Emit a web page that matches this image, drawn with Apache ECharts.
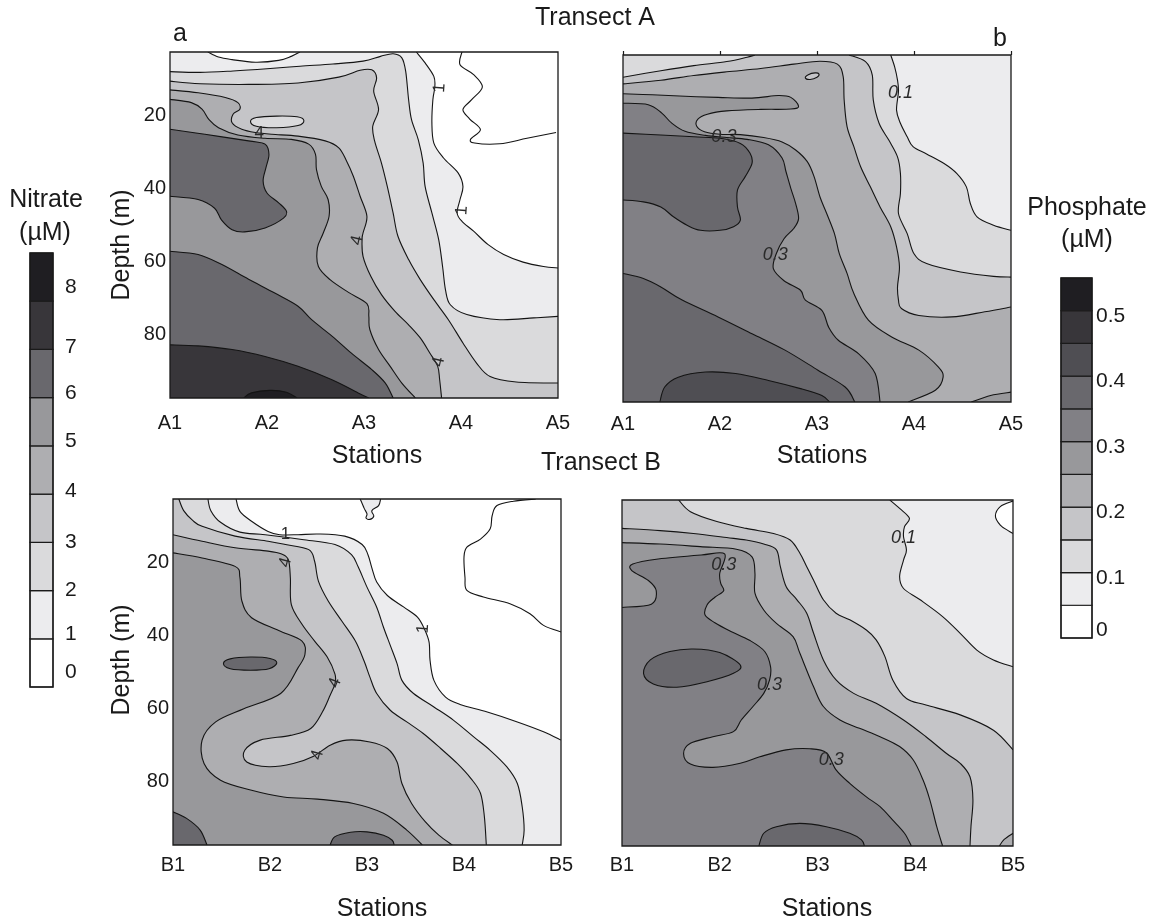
<!DOCTYPE html>
<html>
<head>
<meta charset="utf-8">
<title>Nitrate and phosphate sections, transects A and B</title>
<script src="https://cdn.jsdelivr.net/npm/echarts@6/dist/echarts.min.js"></script>
<style>
html,body{margin:0;padding:0;background:#fff;}
#J_Main{width:1156px;height:924px;}
</style>
</head>
<body>
<div id="J_Main"></div>
<script>
// axes and legend values
var stationsA=['A1','A2','A3','A4','A5'];
var stationsB=['B1','B2','B3','B4','B5'];
var depthTicks=[20,40,60,80];
var nitrateTicks=['0','1','2','3','4','5','6','7','8'];
var nitrateBounds=[0,1,2,3,4,5,6,7,8,9];
var phosphateTicks=['0','0.1','0.2','0.3','0.4','0.5'];
var phosphateBounds=[0,0.05,0.1,0.15,0.2,0.25,0.3,0.35,0.4,0.45,0.5,0.55];

// contour lines, [station, depth m]
// a: nitrate, transect A
var aN1=[[3.54,2.5],[3.63,5.5],[3.72,9.2],[3.73,12.1],[3.71,15.6],[3.70,22],[3.72,27.5],[3.82,31.6],[3.97,35.7],[4.02,39.4],[3.99,43],[3.96,46.7],[4.01,49],[4.13,51.7],[4.28,55.4],[4.44,58.1],[4.64,60.2],[4.85,61.4],[5,61.8]];
var aN1top=[[1.39,2.5],[1.5,3.9],[1.64,4.6],[1.88,5.3],[2.12,4.8],[2.25,3.7],[2.34,2.5]];
var aNwave=[[4.01,2.5],[3.99,6],[4.13,8.7],[4.22,12.1],[4.11,15.6],[4.02,18.3],[4.09,20.9],[4.2,23.8],[4.1,26.4],[4.14,27.5],[4.4,27.7],[4.68,26.2],[4.98,24.6]];
var aN2=[[1,7.9],[1.31,8.1],[1.65,7.7],[2,7.1],[2.34,6.4],[2.68,5.8],[2.99,5.0],[3.17,3.7],[3.3,3.0],[3.39,4.1],[3.43,7.8],[3.46,15.6],[3.49,21.1],[3.56,26.6],[3.61,33],[3.63,39.4],[3.70,46.7],[3.77,54],[3.81,61.4],[3.84,67.8],[3.89,71.9],[4.06,74.6],[4.4,76],[4.75,75.5],[5,75.1]];
var aN3=[[1,10.5],[1.31,11.2],[1.81,11.4],[2.32,11.0],[2.74,9.4],[2.96,7.5],[3.08,7.4],[3.13,9.6],[3.10,13.3],[3.15,18.3],[3.09,22.9],[3.11,27],[3.18,33],[3.24,39.4],[3.30,46.7],[3.35,53.1],[3.46,59.5],[3.58,65],[3.72,70.5],[3.87,76],[4.02,82.4],[4.16,87.9],[4.30,91.6],[4.57,93.1],[5,93.4]];
var aN3hole=[[1.83,21.6],[1.89,20.5],[2.1,20.1],[2.31,20.3],[2.38,21.3],[2.32,22.7],[2.1,23.3],[1.89,22.9]];
var aN4=[[1,12.9],[1.29,13.7],[1.57,15],[1.70,16.4],[1.72,18.2],[1.65,19.6],[1.64,21.9],[1.74,23.7],[1.88,24.6],[2.05,25.1],[2.32,25.6],[2.6,26.9],[2.74,28.8],[2.82,32.4],[2.89,36.6],[2.96,42.1],[3.03,47.6],[2.99,52.2],[2.98,54],[2.99,58.6],[3.07,64.1],[3.18,69.1],[3.32,73.7],[3.46,77.4],[3.58,81],[3.68,85.2],[3.76,88.8],[3.78,92.5],[3.80,97.5]];
var aN5=[[1,15.5],[1.22,16.4],[1.33,18.2],[1.40,21],[1.50,23.3],[1.70,25.3],[1.98,26.2],[2.25,26.5],[2.43,27.8],[2.50,30.6],[2.51,34.8],[2.56,39.4],[2.63,43],[2.64,47.6],[2.58,52.2],[2.52,56.3],[2.53,61.4],[2.65,65],[2.84,68.5],[3.03,71.6],[3.05,75.1],[3.06,78.7],[3.15,84.2],[3.27,88.8],[3.39,93.4],[3.53,97.5]];
var aN6lobe=[[1,23.7],[1.36,25.1],[1.81,26.9],[1.98,27.8],[2.02,30.6],[1.99,34.2],[1.96,37.9],[2.0,41.2],[2.12,43.9],[2.2,46.2],[2.17,48.1],[1.98,50.8],[1.77,51.9],[1.64,51.3],[1.53,48.6],[1.46,45.4],[1.29,43],[1,42.1]];
var aN6=[[1,57.2],[1.29,58.1],[1.53,60.8],[1.81,64.9],[2.08,68.7],[2.32,72.3],[2.46,76],[2.67,80.5],[2.87,85.2],[3.08,89.7],[3.22,93.4],[3.30,97.5]];
var aN7=[[1,82.9],[1.29,83.2],[1.64,84.2],[1.98,86.1],[2.32,88.8],[2.67,92.5],[2.94,96.1],[3.05,97.5]];
var aN8=[[1.76,97.5],[1.84,96.1],[2.03,95.4],[2.2,95.9],[2.31,97.5]];
var aLabels=[[3.78,12.4,'1'],[4.01,46,'1'],[1.92,24.7,'4'],[2.93,54.2,'4'],[3.77,87.6,'4']];

// b: phosphate, transect A
var bP10=[[3.76,2.5],[3.80,5.7],[3.83,9.4],[3.84,12.5],[3.82,17.6],[3.86,21.2],[3.93,24.9],[3.99,27.6],[4.13,29.6],[4.31,32.2],[4.44,34.9],[4.54,38.6],[4.58,43.1],[4.65,46.8],[4.82,49.1],[5,50.5]];
var bP15a=[[1,8.6],[1.39,6.8],[1.73,5.4],[2.07,4.3],[2.28,3.1],[2.36,2.5]];
var bP15b=[[3.33,2.5],[3.50,4.3],[3.57,8],[3.58,14.8],[3.64,21.2],[3.74,25.8],[3.83,30.4],[3.86,34.9],[3.86,40.4],[3.84,45.9],[3.93,51.4],[4.0,56.9],[4.13,59.6],[4.48,61.9],[4.82,63.1],[5,63.3]];
var bP20=[[1,10.4],[1.39,9.4],[1.73,8.1],[2.07,7.1],[2.42,6.2],[2.76,5],[3.03,4.2],[3.21,5],[3.27,8.4],[3.28,14.8],[3.31,22.1],[3.38,27.6],[3.45,33.1],[3.55,38.6],[3.65,44.1],[3.76,49.5],[3.82,55],[3.85,60.5],[3.83,66],[3.84,69.6],[3.87,71.9],[4.05,73.8],[4.39,74.2],[4.73,72.8],[5,71.5]];
var bP20hole=[[2.88,8.8],[2.91,7.9],[2.98,7.4],[3.02,7.7],[3.0,8.6],[2.93,9.2]];
var bP25=[[1,13.1],[1.30,13.4],[1.64,13.8],[1.98,14.1],[2.33,14.3],[2.60,13.6],[2.73,14.1],[2.81,16.5],[2.73,17.3],[2.42,17.4],[2.07,17.8],[1.87,18.7],[1.77,20.1],[1.76,22],[1.84,23.5],[2.0,24.2],[2.21,24.3],[2.45,25.1],[2.64,26.3],[2.78,28.5],[2.90,31.7],[2.97,35.8],[3.03,41.3],[3.10,45.9],[3.18,51.4],[3.23,56.9],[3.31,62.3],[3.38,67.8],[3.53,75.1],[3.77,79.7],[4.05,83.3],[4.25,87.9],[4.30,90.7],[4.22,94.3],[3.94,97.5]];
var bP25corner=[[4.59,97.5],[4.79,95.7],[5,94.8]];
var bP30=[[1,15.7],[1.26,16.1],[1.40,18.4],[1.50,21.1],[1.64,23.4],[1.85,24.5],[2.07,25.1],[2.28,25.6],[2.5,27.1],[2.64,30.7],[2.68,34.4],[2.73,39],[2.78,43.2],[2.81,47.3],[2.76,50],[2.66,52.8],[2.58,56.9],[2.55,61],[2.66,64.3],[2.83,66.9],[2.88,69.6],[3.05,72.4],[3.12,77],[3.22,80.6],[3.43,84.3],[3.60,89.7],[3.65,97.5]];
var bP35lobe=[[1,23.9],[1.39,24.4],[1.73,24.9],[2.0,25.3],[2.21,26.7],[2.31,29.4],[2.33,32.2],[2.26,35.8],[2.18,39.5],[2.18,44.1],[2.21,47.7],[2.14,49.5],[2.0,50.5],[1.80,50.5],[1.66,49.1],[1.52,46.8],[1.39,44.1],[1.21,42.7],[1,42.2]];
var bP35=[[1,62.3],[1.21,63.7],[1.39,66],[1.61,69.6],[1.98,74.2],[2.33,78.8],[2.67,83.3],[3.01,88.8],[3.29,93.4],[3.39,97.5]];
var bP40=[[1.38,97.5],[1.43,93.4],[1.57,90.7],[1.85,89.3],[2.16,89.7],[2.5,91.6],[2.84,93.9],[3.05,95.7],[3.13,97.5]];
var bLabels=[[3.86,13.0,'0.1'],[2.04,24.9,'0.3'],[2.57,57.3,'0.3']];

// c: nitrate, transect B
var cN1=[[1.65,2.5],[1.69,5.9],[1.81,8.6],[1.98,11.4],[2.10,12.3],[2.29,12.3],[2.50,12.1],[2.77,12.7],[2.95,15],[3.01,17.8],[3.05,21.4],[3.10,25.3],[3.21,29],[3.38,32.2],[3.52,34.9],[3.59,38.1],[3.64,41.8],[3.65,46.8],[3.69,52.3],[3.81,56.9],[3.96,58.9],[4.24,61],[4.55,63.7],[4.82,66.4],[5,68.7]];
var cN1cap=[[2.93,2.5],[2.97,5],[3.0,6.6],[2.99,7.7],[3.03,8.1],[3.07,7.2],[3.05,5.7],[3.12,4.3],[3.14,2.5]];
var cNwave=[[4.74,2.5],[4.51,3.1],[4.34,4.3],[4.29,7.1],[4.27,10.7],[4.17,13.5],[4.03,15.7],[4.0,18.5],[4.01,24],[4.03,27.6],[4.2,29.4],[4.48,31.3],[4.68,34],[4.82,37.2],[5,39]];
var cN2=[[1.36,2.5],[1.39,5.7],[1.49,8.9],[1.69,11.6],[1.95,12.3],[2.33,13.6],[2.67,15],[2.84,17.8],[2.91,21.2],[3.0,26.7],[3.10,32.2],[3.17,37.7],[3.24,42.7],[3.31,47.7],[3.36,52.3],[3.48,55.9],[3.69,59.6],[3.89,63.2],[4.1,67.8],[4.27,71.5],[4.44,76],[4.55,80.6],[4.6,87],[4.62,93.4],[4.6,97.5]];
var cN3=[[1.06,2.5],[1.11,5.7],[1.2,8.3],[1.3,10],[1.64,12.7],[1.98,14.1],[2.16,15],[2.40,16.4],[2.46,19.6],[2.5,25.1],[2.6,30.5],[2.74,36],[2.88,41.5],[2.97,47],[3.03,51.4],[3.10,55.9],[3.24,60.5],[3.41,63.7],[3.58,66.9],[3.76,71],[3.93,75.1],[4.07,79.2],[4.17,83.3],[4.21,89.7],[4.23,97.5]];
var cN4=[[1,12.3],[1.3,14.1],[1.64,15.9],[1.98,16.8],[2.12,17.6],[2.19,19.2],[2.21,24.2],[2.22,31.5],[2.33,36.9],[2.46,41.5],[2.59,45.9],[2.67,50.6],[2.67,53.2],[2.62,56.4],[2.54,61],[2.42,65.5],[2.21,67.4],[1.90,68.7],[1.74,71.5],[1.76,74.7],[1.99,76],[2.24,75.1],[2.45,73.1],[2.62,70.1],[2.79,68.7],[3.03,69.2],[3.21,71],[3.31,74.7],[3.36,80.6],[3.46,86.1],[3.6,91.1],[3.74,94.8],[3.88,97.5]];
var cN5=[[1,17.3],[1.30,18.7],[1.64,21],[1.69,24.1],[1.71,30.5],[1.81,35.1],[2.09,38.6],[2.33,41.5],[2.36,45.2],[2.29,48.8],[2.11,55.9],[1.73,60.1],[1.44,63.7],[1.30,68.7],[1.32,75.1],[1.49,79.7],[1.80,82.4],[2.14,84.3],[2.49,84.9],[2.86,86.1],[3.17,88.8],[3.41,93.4],[3.57,97.5]];
var cN6oval=[[1.52,47.7],[1.59,46.4],[1.8,45.9],[2.0,46.3],[2.07,47.5],[1.99,49.1],[1.8,49.5],[1.59,49.1]];
var cN6corner=[[1,88.4],[1.14,90.2],[1.28,93.4],[1.35,97.5]];
var cN6bed=[[2.62,97.5],[2.67,95.2],[2.83,94],[3.0,93.9],[3.17,94.8],[3.26,96.2],[3.28,97.5]];
var cLabels=[[2.16,12.1,'1'],[3.58,38.1,'1'],[2.16,19.9,'4'],[2.67,53.0,'4'],[2.49,72.8,'4']];

// d: phosphate, transect B
var dP05hole=[[5,2.8],[4.87,4.3],[4.82,6.9],[4.87,9.4],[4.95,10.9],[5,11.7]];
var dP10=[[3.74,2.5],[3.84,4.8],[3.94,7.5],[3.89,9.8],[3.88,12.6],[3.91,16.2],[3.88,19],[3.84,23.5],[3.88,26.8],[4.05,29.9],[4.28,34.5],[4.46,39.1],[4.63,43.7],[4.8,46.4],[5,48.3]];
var dP15=[[1.58,2.5],[1.7,5.7],[1.97,8.4],[2.27,10.3],[2.55,11.7],[2.72,13.5],[2.82,17.1],[2.89,20.8],[2.96,24.5],[3.06,29.9],[3.19,33.6],[3.33,35.4],[3.5,38.2],[3.6,40.9],[3.69,45.5],[3.77,51.9],[3.91,57],[4.11,58.8],[4.46,61.5],[4.8,65.7],[5,71.1]];
var dP20=[[1,10.3],[1.39,10.9],[1.73,11.7],[2.07,12.8],[2.27,13.5],[2.45,14.6],[2.58,16.2],[2.62,20.8],[2.68,26.3],[2.79,29.9],[2.89,33.6],[2.96,39.1],[3.06,46.4],[3.19,51.9],[3.37,55.6],[3.6,58.3],[3.88,62.9],[4.11,67.5],[4.32,72.1],[4.46,74.8],[4.56,78.5],[4.59,84.9],[4.57,92.2],[4.56,97.5]];
var dP20corner=[[4.86,97.5],[4.91,95.7],[5,94]];
var dP25=[[1,14.2],[1.39,14.6],[1.8,15.3],[2.17,16],[2.33,18.1],[2.36,22.6],[2.36,28.1],[2.45,32.7],[2.58,36.4],[2.75,40],[2.82,44.6],[2.96,53.8],[3.06,59.2],[3.23,62.9],[3.43,65.2],[3.64,67.5],[3.84,70.2],[3.98,73.9],[4.08,79.4],[4.15,84.9],[4.22,92.2],[4.28,97.5]];
var dP30=[[1,32],[1.3,31.1],[1.35,27.4],[1.27,24.6],[1.10,21.9],[1.11,20.1],[1.37,18.7],[1.81,17.6],[2.05,17.3],[2.0,22.6],[2.01,25.4],[2.04,27.4],[1.95,29.2],[1.87,31.3],[1.85,34.1],[1.95,36.2],[2.10,38.4],[2.31,41.1],[2.46,44.1],[2.52,48.3],[2.51,51.9],[2.45,55.6],[2.34,59.2],[2.22,62.9],[2.14,66.1],[1.93,67.5],[1.70,69.3],[1.63,72.1],[1.70,75],[1.93,75.9],[2.21,74.8],[2.41,73],[2.68,71.1],[2.92,70.8],[3.09,71.9],[3.19,76.6],[3.33,80.3],[3.5,84],[3.64,86.7],[3.77,90.4],[3.89,94],[3.96,97.5]];
var dP35oval=[[1.22,50.1],[1.29,46.4],[1.49,44.1],[1.73,43.4],[2.0,44.4],[2.21,47.8],[2.14,50.1],[1.87,52.4],[1.56,53.9],[1.32,53]];
var dP35bed=[[2.40,97.5],[2.45,94],[2.58,92.2],[2.82,91.3],[3.09,92.2],[3.33,94],[3.45,95.8],[3.48,97.5]];
var dLabels=[[3.88,13.0,'0.1'],[2.04,20.3,'0.3'],[2.51,53.3,'0.3'],[3.14,73.9,'0.3']];

// ---- styling / layout ----
var FONT='Liberation Sans, Arial, Helvetica, sans-serif';
var INK='#1a1a1a';
var nitrateShades=['#ffffff','#ececee','#dadadc','#c5c5c8','#aeaeb1','#98989b','#69686d','#38363a','#1f1e22'];
var phosphateShades=['#ffffff','#ececee','#dadadc','#c5c5c8','#aeaeb1','#98989b','#818085','#69686d','#4f4e53','#38363a','#1f1e22'];
var DEPTH_MIN=2.5,DEPTH_MAX=97.5;
var CORNER={TL:[1,DEPTH_MIN],TR:[5,DEPTH_MIN],BR:[5,DEPTH_MAX],BL:[1,DEPTH_MAX]};
// where the colour-bar labels sit, in bar units
var nitrateLabelAt=[0.3,1.1,2.0,3.0,4.05,5.1,6.1,7.05,8.3];
var phosphateLabelAt=[0.012,0.092,0.192,0.292,0.392,0.492];

// filled regions: lv = lower bound of the band painted on the high side of the line
var regionsA=[
    {lv:0,segs:[],close:['TL','TR','BR','BL']},
    {lv:1,segs:[aN1],close:['BR','BL','TL']},
    {lv:0,segs:[aN1top]},
    {lv:2,segs:[aN2],close:['BR','BL']},
    {lv:3,segs:[aN3],close:['BR','BL']},
    {lv:2,segs:[aN3hole],ring:true},
    {lv:4,segs:[aN4],close:['BL']},
    {lv:5,segs:[aN5],close:['BL']},
    {lv:6,segs:[aN6lobe]},
    {lv:6,segs:[aN6],close:['BL']},
    {lv:7,segs:[aN7],close:['BL']},
    {lv:8,segs:[aN8]},
    {lv:null,segs:[aNwave]}
];
var regionsB=[
    {lv:0.05,segs:[],close:['TL','TR','BR','BL']},
    {lv:0.1,segs:[bP10],close:['BR','BL','TL']},
    {lv:0.15,segs:[bP15a,bP15b],close:['BR','BL']},
    {lv:0.2,segs:[bP20],close:['BR','BL']},
    {lv:0.15,segs:[bP20hole],ring:true},
    {lv:0.25,segs:[bP25],close:['BL']},
    {lv:0.25,segs:[bP25corner],close:['BR']},
    {lv:0.3,segs:[bP30],close:['BL']},
    {lv:0.35,segs:[bP35lobe]},
    {lv:0.35,segs:[bP35],close:['BL']},
    {lv:0.4,segs:[bP40]}
];
var regionsC=[
    {lv:0,segs:[],close:['TL','TR','BR','BL']},
    {lv:1,segs:[cN1],close:['BR','BL','TL']},
    {lv:1,segs:[cN1cap]},
    {lv:2,segs:[cN2],close:['BL','TL']},
    {lv:3,segs:[cN3],close:['BL','TL']},
    {lv:4,segs:[cN4],close:['BL']},
    {lv:5,segs:[cN5],close:['BL']},
    {lv:6,segs:[cN6oval],ring:true},
    {lv:6,segs:[cN6corner],close:['BL']},
    {lv:6,segs:[cN6bed]},
    {lv:null,segs:[cNwave]}
];
var regionsD=[
    {lv:0.05,segs:[],close:['TL','TR','BR','BL']},
    {lv:0,segs:[dP05hole]},
    {lv:0.1,segs:[dP10],close:['BR','BL','TL']},
    {lv:0.15,segs:[dP15],close:['BR','BL','TL']},
    {lv:0.2,segs:[dP20],close:['BL']},
    {lv:0.2,segs:[dP20corner],close:['BR']},
    {lv:0.25,segs:[dP25],close:['BL']},
    {lv:0.3,segs:[dP30],close:['BL']},
    {lv:0.35,segs:[dP35oval],ring:true},
    {lv:0.35,segs:[dP35bed]}
];

// catmull-rom through pixel points, returned as bezier commands after the first point
function splineTail(pts,ring){
    var n=pts.length,out='',m=ring?n:n-1;
    for(var i=0;i<m;i++){
        var p0=pts[ring?(i-1+n)%n:Math.max(i-1,0)],p1=pts[i],p2=pts[(i+1)%n],p3=pts[ring?(i+2)%n:Math.min(i+2,n-1)];
        out+=' C'+(p1[0]+(p2[0]-p0[0])/6)+' '+(p1[1]+(p2[1]-p0[1])/6)+' '+(p2[0]-(p3[0]-p1[0])/6)+' '+(p2[1]-(p3[1]-p1[1])/6)+' '+p2[0]+' '+p2[1];
    }
    return out;
}

function sectionSeries(idx,regions,shades,step,labels,turns,italic){
    return [{
        type:'custom',coordinateSystem:'cartesian2d',xAxisIndex:idx,yAxisIndex:idx,
        clip:true,silent:true,animation:false,z:2,
        encode:{x:0,y:1},
        data:regions.map(function(r,i){return [1,DEPTH_MIN,i];}),
        renderItem:function(params,api){
            var r=regions[params.dataIndex],d='',strokes=[],children=[];
            r.segs.forEach(function(seg){
                var pts=seg.map(function(p){return api.coord(p);});
                var head=pts[0][0]+' '+pts[0][1],tail=splineTail(pts,r.ring);
                d+=(d?' L':'M')+head+tail;
                strokes.push('M'+head+tail+(r.ring?' Z':''));
            });
            (r.close||[]).forEach(function(c){
                var p=api.coord(CORNER[c]);
                d+=(d?' L':'M')+p[0]+' '+p[1];
            });
            if(r.lv!=null){
                children.push({type:'path',shape:{pathData:d+' Z'},style:{fill:shades[Math.round(r.lv/step)],stroke:'none'}});
            }
            strokes.forEach(function(s){
                children.push({type:'path',shape:{pathData:s},style:{fill:'none',stroke:'#141414',lineWidth:1.1}});
            });
            return {type:'group',children:children};
        }
    },{
        type:'custom',coordinateSystem:'cartesian2d',xAxisIndex:idx,yAxisIndex:idx,
        silent:true,animation:false,z:3,
        encode:{x:0,y:1},
        data:labels.map(function(l,i){return [l[0],l[1],i];}),
        renderItem:function(params,api){
            var p=api.coord([api.value(0),api.value(1)]),k=params.dataIndex;
            return {type:'text',x:p[0],y:p[1],rotation:turns[k]||0,
                style:{text:labels[k][2],fontSize:italic?18:17,fontFamily:FONT,fontStyle:italic?'italic':'normal',
                    fill:'#2a2a2a',align:'center',verticalAlign:'middle'}};
        }
    }];
}

function barSeries(idx,bounds,shades){
    return {
        type:'custom',coordinateSystem:'cartesian2d',xAxisIndex:idx,yAxisIndex:idx,
        silent:true,animation:false,encode:{x:0,y:1},
        data:bounds.slice(0,-1).map(function(lo,i){return [0,lo,bounds[i+1],i];}),
        renderItem:function(params,api){
            var a=api.coord([0,api.value(1)]),b=api.coord([1,api.value(2)]);
            return {type:'rect',shape:{x:a[0],y:b[1],width:b[0]-a[0],height:a[1]-b[1]},
                style:{fill:shades[api.value(3)],stroke:'#1a1a1a',lineWidth:1.2}};
        }
    };
}

function stationAxis(idx,names,margin){
    return {type:'value',gridIndex:idx,min:1,max:5,interval:1,
        axisLine:{show:false},axisTick:{show:false},splitLine:{show:false},
        axisLabel:{show:true,margin:margin,fontSize:20,color:INK,fontFamily:FONT,
            formatter:function(v){return names[Math.round(v)-1];}}};
}
function depthAxis(idx,labels){
    return {type:'value',gridIndex:idx,inverse:true,min:DEPTH_MIN,max:DEPTH_MAX,
        axisLine:{show:false},axisTick:{show:false},splitLine:{show:false},
        axisLabel:{show:labels,customValues:depthTicks,margin:4,fontSize:20,color:INK,fontFamily:FONT}};
}
function gridBox(left,top,width,height){
    return {left:left,top:top,width:width,height:height,show:true,z:10,outerBoundsMode:'none',
        backgroundColor:'rgba(0,0,0,0)',borderColor:'#1a1a1a',borderWidth:1.3};
}
function label(text,x,y,size,rot){
    return {type:'text',x:x,y:y,rotation:rot||0,silent:true,
        style:{text:text,fontSize:size,fontFamily:FONT,fill:INK,align:'center',verticalAlign:'middle'}};
}

var myChart=echarts.init(document.getElementById('J_Main'),null,{renderer:'canvas'});
var option={
    animation:false,
    backgroundColor:'#ffffff',
    textStyle:{fontFamily:FONT},
    grid:[
        gridBox(170,52,388,346),
        gridBox(623,55,388,347),
        gridBox(173,499,388,346),
        gridBox(622,500,391,346),
        gridBox(30,253,23,434),
        gridBox(1061,278,31,360)
    ],
    xAxis:[
        stationAxis(0,stationsA,15),
        stationAxis(1,stationsA,12),
        stationAxis(2,stationsB,10),
        stationAxis(3,stationsB,9),
        {type:'value',gridIndex:4,min:0,max:1,show:false},
        {type:'value',gridIndex:5,min:0,max:1,show:false},
        {type:'value',gridIndex:1,position:'top',min:1,max:5,interval:1,
            axisLine:{show:false},splitLine:{show:false},axisLabel:{show:false},
            axisTick:{show:true,inside:false,length:4,lineStyle:{color:'#1a1a1a',width:1.2}}}
    ],
    yAxis:[
        depthAxis(0,true),
        depthAxis(1,false),
        depthAxis(2,true),
        depthAxis(3,false),
        {type:'value',gridIndex:4,min:0,max:9,position:'right',
            axisLine:{show:false},axisTick:{show:false},splitLine:{show:false},
            axisLabel:{customValues:nitrateLabelAt,margin:12,fontSize:21,color:INK,fontFamily:FONT,
                formatter:function(v){return nitrateTicks[nitrateLabelAt.indexOf(v)];}}},
        {type:'value',gridIndex:5,min:0,max:0.55,position:'right',
            axisLine:{show:false},axisTick:{show:false},splitLine:{show:false},
            axisLabel:{customValues:phosphateLabelAt,margin:4,fontSize:21,color:INK,fontFamily:FONT,
                formatter:function(v){return phosphateTicks[phosphateLabelAt.indexOf(v)];}}}
    ],
    series:[].concat(
        sectionSeries(0,regionsA,nitrateShades,1,aLabels,[1.5,1.5,0,1.35,1.35],false),
        sectionSeries(1,regionsB,phosphateShades,0.05,bLabels,[0,0,0],true),
        sectionSeries(2,regionsC,nitrateShades,1,cLabels,[0,1.5,1.3,1.2,1.3],false),
        sectionSeries(3,regionsD,phosphateShades,0.05,dLabels,[0,0,0,0],true),
        [barSeries(4,nitrateBounds,nitrateShades),barSeries(5,phosphateBounds,phosphateShades)]
    ),
    graphic:[
        label('Transect A',595,18,25),
        label('Transect B',601,463,25),
        {type:'text',x:173,y:34,silent:true,style:{text:'a',fontSize:25,fontFamily:FONT,fill:INK,align:'left',verticalAlign:'middle'}},
        {type:'text',x:993,y:39,silent:true,style:{text:'b',fontSize:25,fontFamily:FONT,fill:INK,align:'left',verticalAlign:'middle'}},
        label('Stations',377,456,25),
        label('Stations',822,456,25),
        label('Stations',382,909,25),
        label('Stations',827,909,25),
        label('Depth (m)',122,245,25,Math.PI/2),
        label('Depth (m)',122,660,25,Math.PI/2),
        label('Nitrate',46,200,25),
        label('(\u00b5M)',45,233,25),
        label('Phosphate',1087,208,25),
        label('(\u00b5M)',1087,240,25)
    ]
};
myChart.setOption(option);
</script>
</body>
</html>
